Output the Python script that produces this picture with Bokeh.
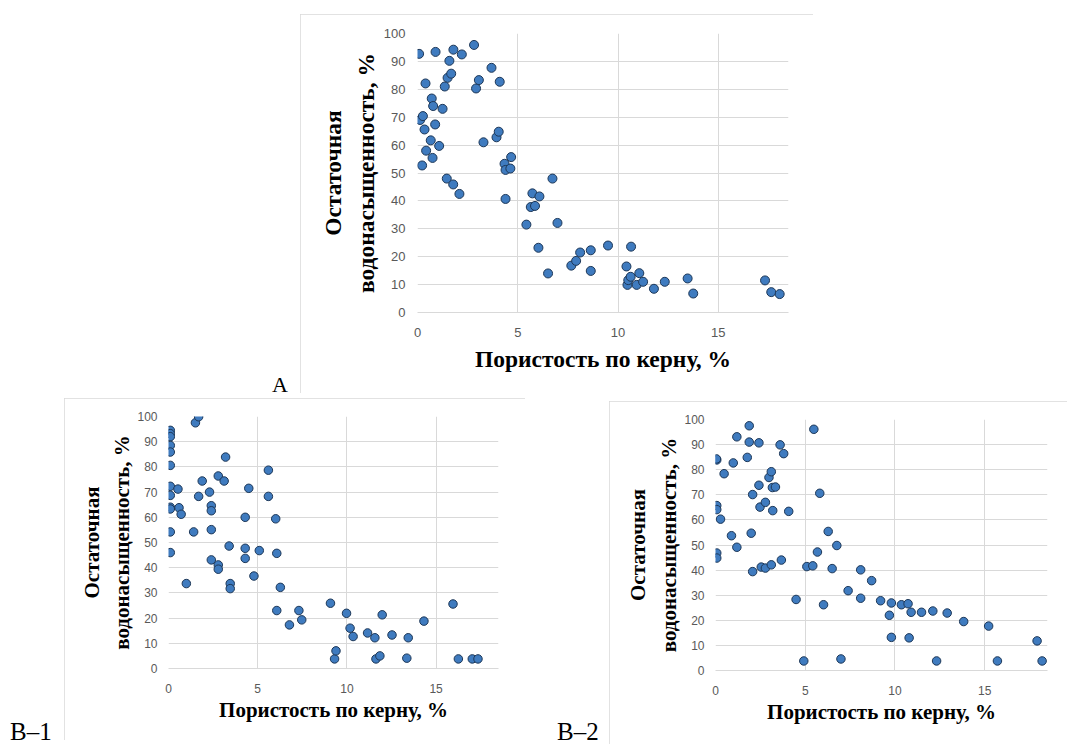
from bokeh.plotting import figure
from bokeh.layouts import row, column
from bokeh.models import Range1d, FixedTicker, Div, Spacer
from bokeh.embed import file_html
from bokeh.resources import INLINE

# ---------------- data ----------------
# Chart A
a_por = [0.08, 0.9, 1.79, 2.21, 2.82, 1.59, 1.50, 1.68, 1.36, 0.40, 2.92, 3.06, 3.69, 4.10,
         0.71, 0.78, 1.25, 0.13, 0.27, 0.88, 0.35, 0.66, 1.08, 0.43, 0.75, 0.23, 3.29, 3.94,
         4.05, 4.34, 4.39, 4.63, 4.67, 1.46, 1.78, 2.09, 4.39, 6.73, 5.73, 6.08, 5.65, 5.86,
         5.43, 6.98, 6.03, 6.51, 7.67, 7.91, 8.11, 8.64, 8.64, 9.50, 10.65, 10.42, 10.47,
         10.51, 10.63, 10.93, 11.06, 11.25, 11.79, 12.33, 13.47, 13.75, 17.33, 17.64, 18.06]
a_sw = [92.7, 93.4, 94.2, 92.5, 95.9, 90.2, 84.1, 85.6, 81.0, 82.1, 80.3, 83.3, 87.7, 82.7,
        76.7, 74.0, 73.0, 69.0, 70.4, 67.4, 65.6, 61.7, 59.7, 58.0, 55.4, 52.7, 61.0, 62.8,
        64.8, 53.3, 51.1, 51.6, 55.7, 48.0, 45.9, 42.5, 40.7, 48.0, 42.7, 41.6, 37.8, 38.2,
        31.5, 32.1, 23.2, 14.0, 16.8, 18.5, 21.5, 22.3, 14.9, 24.0, 23.6, 16.5, 9.9,
        11.6, 12.8, 9.9, 14.1, 11.0, 8.5, 11.0, 12.2, 6.8, 11.5, 7.3, 6.6]

# Chart B-1
b1_por = [0.1, 0.1, 0.1, 0.1, 0.1, 0.1, 0.1, 0.1, 0.1, 0.1, 0.1, 0.1, 0.53, 0.59, 0.71, 1.0,
          1.41, 1.51, 1.69, 1.69, 1.89, 2.30, 2.40, 2.40, 2.40, 2.40, 2.79, 3.12, 3.20, 2.79,
          2.79, 3.40, 3.46, 3.46, 4.30, 4.30, 4.30, 4.50, 4.79, 5.09, 5.60, 5.60, 6.01, 6.07,
          6.27, 6.07, 6.78, 7.31, 7.47, 9.08, 9.31, 9.39, 9.98, 10.18, 10.35, 11.16, 11.57,
          11.63, 11.85, 11.98, 12.53, 13.36, 13.44, 14.32, 15.95, 16.25, 17.03, 17.35]
b1_sw = [94.5, 93.2, 92.0, 88.5, 85.9, 80.6, 72.3, 68.7, 64.0, 63.3, 54.2, 46.0, 71.2, 63.8,
         61.2, 33.7, 54.2, 97.5, 99.9, 68.3, 74.4, 70.0, 64.6, 62.6, 55.1, 43.1, 76.4, 74.4,
         83.9, 41.1, 39.4, 48.6, 33.7, 31.7, 60.0, 47.7, 43.7, 71.5, 36.7, 46.8, 78.7, 68.3,
         59.4, 45.7, 32.2, 23.0, 17.3, 23.0, 19.3, 25.9, 3.8, 7.0, 21.9, 16.0, 12.7, 14.1,
         12.2, 3.8, 5.0, 21.3, 13.3, 4.1, 12.2, 18.8, 25.6, 3.8, 3.8, 3.8]

# Chart B-2
b2_por = [0.07, 0.05, 0.07, 0.07, 0.28, 0.48, 0.07, 0.07, 0.89, 0.99, 1.19, 1.19, 1.77, 1.88,
          1.88, 1.99, 2.07, 2.07, 2.42, 2.42, 2.48, 2.55, 2.78, 2.78, 2.98, 3.11, 3.17, 3.34,
          3.19, 3.11, 3.60, 3.80, 3.67, 4.08, 4.49, 4.92, 5.09, 5.42, 5.48, 5.68, 5.81, 6.02,
          6.28, 6.50, 6.76, 6.99, 7.39, 8.09, 8.09, 8.70, 9.20, 9.69, 9.80, 9.80, 10.36, 10.73,
          10.90, 10.79, 11.48, 12.11, 12.32, 12.91, 13.83, 15.22, 15.71, 17.92, 18.20]
b2_sw = [83.9, 84.3, 65.7, 64.1, 60.3, 78.4, 46.8, 44.8, 53.7, 82.7, 93.1, 49.1, 84.9, 97.5,
         91.0, 54.7, 70.1, 39.4, 90.7, 73.8, 65.1, 41.2, 40.8, 67.0, 76.9, 79.2, 72.9, 73.1,
         63.7, 42.1, 89.9, 86.4, 44.0, 63.4, 28.3, 3.8, 41.4, 41.7, 96.1, 47.2, 70.6, 26.2,
         55.4, 40.6, 49.8, 4.6, 31.8, 40.1, 28.8, 35.8, 27.8, 22.0, 26.9, 13.2, 26.2, 26.6,
         23.2, 13.0, 23.2, 23.7, 3.8, 22.9, 19.5, 17.7, 3.8, 11.8, 3.8]

x_ticks = [0, 5, 10, 15]
y_ticks = [0, 10, 20, 30, 40, 50, 60, 70, 80, 90, 100]
x_title = "Пористость по керну, %"
y_title = "Остаточная\nводонасыщенность, %"
panel_labels = ["A", "B\u20131", "B\u20132"]

GRID = "#d9d9d9"
TICK = "#595959"
FILL = "#3f7bbf"
EDGE = "#1d3757"


def make_fig(xs, ys, w, h, bl, br, bt, bb, tick_fs, title_fs, msize, lh,
             x_lab_so, y_lab_so, x_so, y_so):
    p = figure(width=w, height=h, x_range=Range1d(0, 18.5), y_range=Range1d(0, 100),
               output_backend="svg", toolbar_location=None,
               min_border_left=bl, min_border_right=br, min_border_top=bt, min_border_bottom=bb,
               styles={"outline": "1px solid #d9d9d9", "outline-offset": "-1px"})
    p.outline_line_color = None
    p.background_fill_color = "white"
    p.border_fill_color = "white"
    p.xaxis.ticker = FixedTicker(ticks=x_ticks)
    p.yaxis.ticker = FixedTicker(ticks=y_ticks)
    for ax in (p.xaxis, p.yaxis):
        ax.major_tick_line_color = None
        ax.minor_tick_line_color = None
        ax.major_tick_out = 0
        ax.major_tick_in = 0
        ax.minor_tick_out = 0
        ax.minor_tick_in = 0
        ax.major_label_text_color = TICK
        ax.major_label_text_font = "Liberation Sans"
        ax.major_label_text_font_size = f"{tick_fs}px"
        ax.axis_label_text_font = "Liberation Serif"
        ax.axis_label_text_font_style = "bold"
        ax.axis_label_text_font_size = f"{title_fs}px"
        ax.axis_label_text_color = "black"
    p.xaxis.axis_line_color = GRID
    p.yaxis.axis_line_color = None
    p.xaxis.major_label_standoff = x_lab_so
    p.yaxis.major_label_standoff = y_lab_so
    p.xaxis.axis_label_standoff = x_so
    p.yaxis.axis_label_standoff = y_so
    p.xaxis.axis_label = x_title
    p.yaxis.axis_label = y_title
    p.yaxis.axis_label_text_line_height = lh
    p.xgrid.grid_line_color = GRID
    p.ygrid.grid_line_color = GRID
    p.scatter(xs, ys, size=msize, fill_color=FILL, line_color=EDGE, line_width=1)
    return p


def label_div(text, w, h, left, top, fs):
    return Div(text=(f'<div style="margin-left:{left}px;margin-top:{top}px;'
                     f'font-family:\'Liberation Serif\';font-size:{fs}px;line-height:1;'
                     f'color:#000;white-space:nowrap">{text}</div>'),
               width=w, height=h, margin=(0, 0, 0, 0))


figA = make_fig(a_por, a_sw, 513, 379, 117, 25, 19, 81, 13, 23.5, 9, 1.25, 15, 12, 6, 2)
figB1 = make_fig(b1_por, b1_sw, 461, 342, 104, 27, 18, 72, 12, 21, 8.5, 1.27, 15, 11, 2, 0)
figB2 = make_fig(b2_por, b2_sw, 458, 343, 106, 20, 18, 74, 12, 21, 8.5, 1.3, 15, 11, 2, 0)

top_row = row(label_div(panel_labels[0], 300, 393, 272, 374, 22),
              column(Spacer(width=513, height=14, margin=(0, 0, 0, 0)), figA))
bottom_row = row(label_div(panel_labels[1], 64, 351, 10, 326, 25),
                 column(Spacer(width=461, height=5, margin=(0, 0, 0, 0)), figB1),
                 label_div(panel_labels[2], 84, 351, 32, 326, 25),
                 column(Spacer(width=458, height=8, margin=(0, 0, 0, 0)), figB2))
layout = column(top_row, bottom_row)

open("out.html", "w").write(file_html(layout, INLINE))
